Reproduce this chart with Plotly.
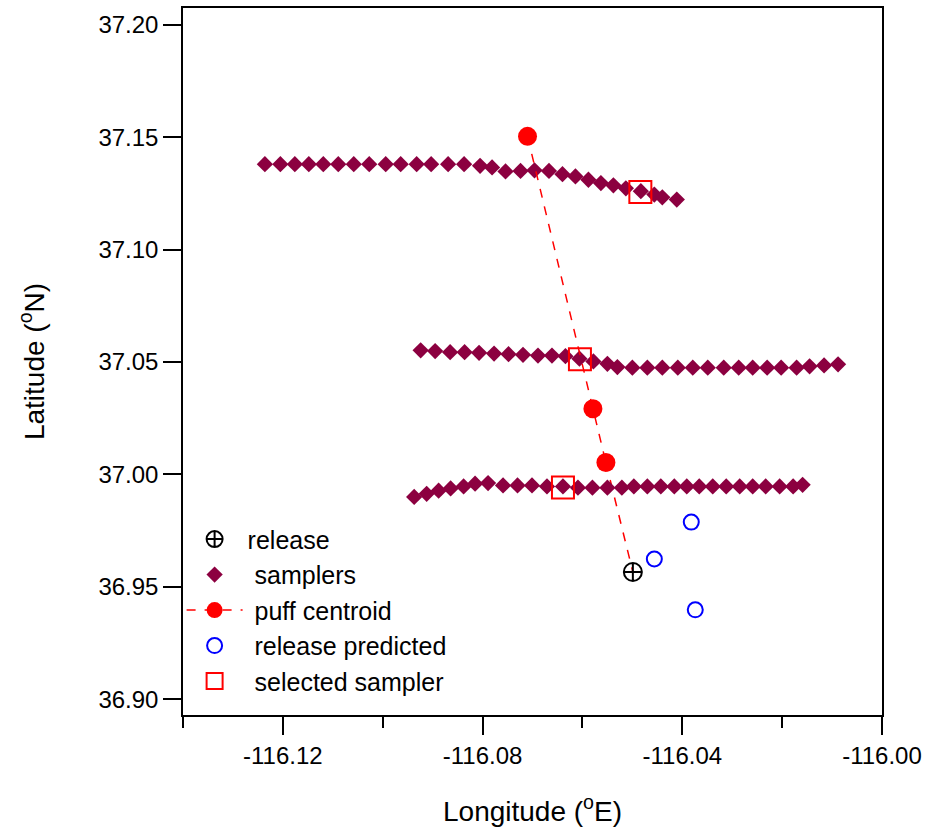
import plotly.graph_objects as go

# ---------------- data ----------------
# samplers (three arcs)
sampler_lon_n = [-116.1236, -116.1205, -116.1176, -116.1148, -116.1119, -116.1089, -116.1058, -116.1027,
                 -116.0994, -116.0964, -116.0932, -116.0903, -116.0869, -116.0837, -116.0805, -116.0781,
                 -116.0754, -116.0724, -116.0696, -116.0667, -116.0640, -116.0614, -116.0588, -116.0563,
                 -116.0538, -116.0513, -116.0483, -116.0456, -116.0440, -116.0411]
sampler_lat_n = [37.1380, 37.1380, 37.1380, 37.1380, 37.1380, 37.1380, 37.1380, 37.1380,
                 37.1380, 37.1380, 37.1380, 37.1380, 37.1380, 37.1380, 37.1373, 37.1366,
                 37.1348, 37.1350, 37.1353, 37.1350, 37.1336, 37.1326, 37.1311, 37.1296,
                 37.1286, 37.1273, 37.1260, 37.1245, 37.1233, 37.1223]

sampler_lon_m = [-116.0924, -116.0895, -116.0865, -116.0836, -116.0807, -116.0777, -116.0748, -116.0719,
                 -116.0689, -116.0661, -116.0634, -116.0606, -116.0578, -116.0550, -116.0530, -116.0500,
                 -116.0470, -116.0440, -116.0409, -116.0379, -116.0349, -116.0317, -116.0287, -116.0259,
                 -116.0230, -116.0202, -116.0171, -116.0145, -116.0116, -116.0088]
sampler_lat_m = [37.0552, 37.0549, 37.0544, 37.0544, 37.0541, 37.0538, 37.0535, 37.0532,
                 37.0529, 37.0529, 37.0526, 37.0515, 37.0503, 37.0492, 37.0478, 37.0475,
                 37.0475, 37.0475, 37.0475, 37.0475, 37.0475, 37.0475, 37.0475, 37.0475,
                 37.0475, 37.0475, 37.0475, 37.0481, 37.0485, 37.0490]

sampler_lon_s = [-116.0937, -116.0912, -116.0888, -116.0864, -116.0838, -116.0815, -116.0789, -116.0759,
                 -116.0730, -116.0701, -116.0671, -116.0639, -116.0609, -116.0580, -116.0550, -116.0521,
                 -116.0497, -116.0470, -116.0443, -116.0416, -116.0391, -116.0366, -116.0339, -116.0312,
                 -116.0285, -116.0259, -116.0233, -116.0205, -116.0178, -116.0159]
sampler_lat_s = [36.9900, 36.9914, 36.9928, 36.9938, 36.9947, 36.9959, 36.9962, 36.9951,
                 36.9951, 36.9951, 36.9947, 36.9947, 36.9941, 36.9941, 36.9941, 36.9941,
                 36.9947, 36.9947, 36.9947, 36.9947, 36.9947, 36.9947, 36.9947, 36.9947,
                 36.9947, 36.9947, 36.9947, 36.9947, 36.9947, 36.9954]

release_lon = [-116.0499]
release_lat = [36.9566]

centroid_lon = [-116.0710, -116.0579, -116.0553]
centroid_lat = [37.1504, 37.0292, 37.0053]

predicted_lon = [-116.0382, -116.0456, -116.0374]
predicted_lat = [36.9788, 36.9624, 36.9398]

selected_lon = [-116.0484, -116.0605, -116.0639]
selected_lat = [37.1257, 37.0513, 36.9942]

x_tickvals = [-116.12, -116.08, -116.04, -116.00]
x_ticktext = ["-116.12", "-116.08", "-116.04", "-116.00"]
y_tickvals = [36.90, 36.95, 37.00, 37.05, 37.10, 37.15, 37.20]
y_ticktext = ["36.90", "36.95", "37.00", "37.05", "37.10", "37.15", "37.20"]

# ---------------- figure ----------------
FONT = "Liberation Sans, Arial, sans-serif"
sampler_lon = sampler_lon_n + [None] + sampler_lon_m + [None] + sampler_lon_s
sampler_lat = sampler_lat_n + [None] + sampler_lat_m + [None] + sampler_lat_s

fig = go.Figure()

# dashed extension from last centroid to the release point
fig.add_trace(go.Scatter(
    x=[centroid_lon[-1], release_lon[0]], y=[centroid_lat[-1], release_lat[0]],
    mode="lines", line=dict(color="#ff0000", width=1.5, dash="dash"),
    showlegend=False, hoverinfo="skip"))

fig.add_trace(go.Scatter(
    x=release_lon, y=release_lat, mode="markers", name="release",
    marker=dict(symbol="circle-cross-open", size=18, color="black", line=dict(width=2, color="black"))))

fig.add_trace(go.Scatter(
    x=sampler_lon, y=sampler_lat, mode="markers", name=" samplers",
    marker=dict(symbol="diamond", size=12.5, color="#8c0040", line=dict(width=0))))

fig.add_trace(go.Scatter(
    x=centroid_lon, y=centroid_lat, mode="lines+markers", name=" puff centroid",
    line=dict(color="#ff0000", width=1.5, dash="dash"),
    marker=dict(symbol="circle", size=19, color="#ff0000")))

fig.add_trace(go.Scatter(
    x=predicted_lon, y=predicted_lat, mode="markers", name=" release predicted",
    marker=dict(symbol="circle-open", size=15, color="#0000ff", line=dict(width=2, color="#0000ff"))))

fig.add_trace(go.Scatter(
    x=selected_lon, y=selected_lat, mode="markers", name=" selected sampler",
    marker=dict(symbol="square-open", size=22, color="#ff0000", line=dict(width=2, color="#ff0000"))))

fig.update_layout(
    width=934, height=829,
    margin=dict(l=183, r=52, t=6, b=114),
    paper_bgcolor="white", plot_bgcolor="white",
    font=dict(family=FONT, color="black"),
    showlegend=True,
    legend=dict(x=-0.002, xanchor="left", y=0.281, yanchor="top",
                bgcolor="rgba(0,0,0,0)", font=dict(size=25, family=FONT),
                itemwidth=56, tracegroupgap=0),
    xaxis=dict(
        range=[-116.14, -116.0], showgrid=False, zeroline=False,
        showline=True, linecolor="black", linewidth=1.5, mirror=True,
        tickmode="array", tickvals=x_tickvals, ticktext=x_ticktext,
        ticks="outside", ticklen=18, tickwidth=1.5, tickcolor="black",
        tickfont=dict(size=24, family=FONT),
        minor=dict(dtick=0.02, tick0=-116.14, ticks="outside", ticklen=11, tickwidth=1.5, tickcolor="black"),
        title=dict(text="Longitude (<sup>o</sup>E)", font=dict(size=28, family=FONT), standoff=34),
    ),
    yaxis=dict(
        range=[36.893, 37.2075], showgrid=False, zeroline=False,
        showline=True, linecolor="black", linewidth=1.5, mirror=True,
        tickmode="array", tickvals=y_tickvals, ticktext=y_ticktext,
        ticks="outside", ticklen=18, tickwidth=1.5, tickcolor="black",
        tickfont=dict(size=24, family=FONT),
        title=dict(text="Latitude (<sup>o</sup>N)", font=dict(size=28, family=FONT), standoff=46),
    ),
)

fig.write_html("out.html", config={"displayModeBar": False},
               post_script="document.body.style.margin='0';")
